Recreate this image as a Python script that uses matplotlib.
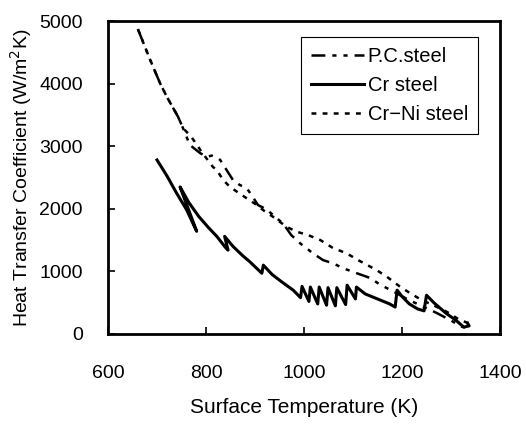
import matplotlib
matplotlib.use("Agg")
import matplotlib.pyplot as plt

plt.rcParams['font.family'] = ['Liberation Sans', 'DejaVu Sans']
plt.rcParams['lines.scale_dashes'] = False

# ---- data ----
pc_T = [661, 686, 706, 720, 743, 753, 767, 788, 801, 812, 822, 829, 842, 855, 869, 883,
        893, 906, 924, 944, 957, 974, 992, 1018, 1039, 1059, 1080, 1108, 1135, 1155, 1182,
        1210, 1243, 1271, 1298, 1322, 1335]
pc_H = [4870, 4380, 4010, 3790, 3470, 3290, 3020, 2890, 2830, 2850, 2820, 2780, 2620, 2460,
        2380, 2330, 2220, 2060, 1990, 1850, 1770, 1580, 1450, 1290, 1180, 1130, 1050, 970,
        895, 790, 680, 560, 436, 335, 224, 117, 96]

crni_T = [661, 686, 706, 720, 743, 753, 770, 792, 814, 822, 835, 849, 873, 900, 920, 941,
          951, 964, 985, 1008, 1033, 1059, 1087, 1110, 1148, 1169, 1196, 1216, 1240, 1263,
          1291, 1318, 1335]
crni_H = [4870, 4380, 4010, 3790, 3470, 3290, 3150, 2900, 2670, 2620, 2460, 2350, 2220, 2080,
          1960, 1850, 1790, 1714, 1634, 1581, 1502, 1374, 1289, 1182, 1022, 915, 756, 655,
          543, 463, 356, 224, 176]

cr_T = [700, 720, 740, 760, 781, 747, 765, 785, 805, 822, 840, 845, 838, 855, 875, 890, 914,
        917, 935, 955, 978, 993, 996, 1010, 1013, 1028, 1031, 1046, 1049, 1064, 1067, 1085,
        1088, 1105, 1107, 1125, 1150, 1175, 1186, 1190, 1200, 1215, 1232, 1245, 1250, 1265,
        1290, 1310, 1326, 1337, 1334]
cr_H = [2780, 2530, 2250, 1990, 1640, 2350, 2100, 1880, 1700, 1560, 1380, 1340, 1560, 1400,
        1250, 1150, 970, 1100, 950, 830, 700, 580, 760, 520, 750, 480, 750, 460, 740, 450,
        740, 470, 780, 560, 750, 640, 560, 480, 430, 700, 600, 480, 400, 370, 620, 500, 330,
        220, 110, 130, 170]

x_ticks = [600, 800, 1000, 1200, 1400]
y_ticks = [0, 1000, 2000, 3000, 4000, 5000]

fig = plt.figure(figsize=(5.26, 4.30), dpi=100)
ax = fig.add_axes([108/526, 96/430, 392/526, 313/430])

ax.plot(pc_T, pc_H, color='black', lw=1.8, linestyle=(0, (10, 5, 3, 5, 3, 5)), label='P.C.steel')
ax.plot(cr_T, cr_H, color='black', lw=2.2, linestyle='-', label='Cr steel')
ax.plot(crni_T, crni_H, color='black', lw=1.8, linestyle=(0, (3.5, 4.5)), label='Cr\u2212Ni steel')

ax.set_xlim(600, 1400)
ax.set_ylim(0, 5000)
ax.set_xticks(x_ticks)
ax.set_yticks(y_ticks)
ax.tick_params(direction='in', length=5, width=1.2, labelsize=14)
ax.tick_params(axis='x', pad=22)
ax.tick_params(axis='y', pad=18)
for s in ax.spines.values():
    s.set_linewidth(2.0)

ax.set_xlabel('Surface Temperature (K)', fontsize=15, labelpad=12)
ax.set_ylabel('Heat Transfer Coefficient (W/m$^2$K)', fontsize=14, labelpad=4)

leg = ax.legend(loc='upper right', bbox_to_anchor=((478 - 108) / 392, (334 - 37) / 313),
                fontsize=14.5, handlelength=2.6, handletextpad=0.2, fancybox=False,
                framealpha=1, edgecolor='black', borderaxespad=0, borderpad=0.5,
                labelspacing=0.5)
leg.get_frame().set_linewidth(0.8)

fig.savefig('out.png', dpi=100)
